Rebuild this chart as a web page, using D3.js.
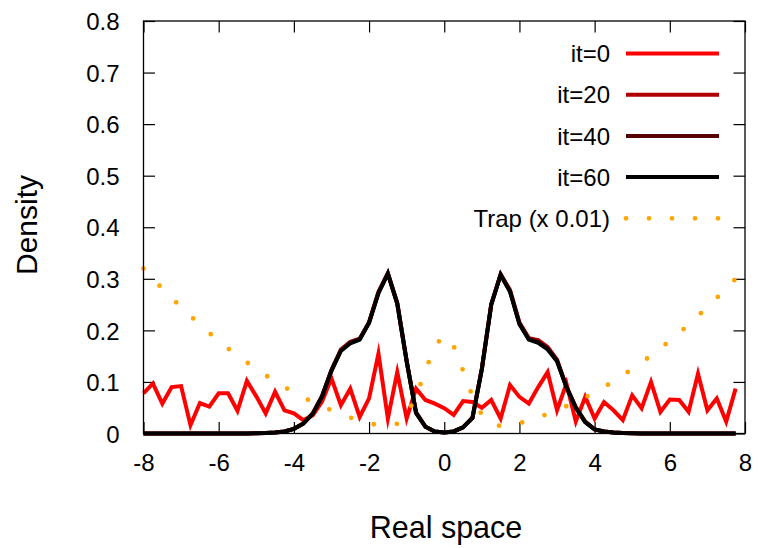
<!DOCTYPE html>
<html>
<head>
<meta charset="utf-8">
<script src="https://cdn.jsdelivr.net/npm/d3@7/dist/d3.min.js"></script>
<style>
  html, body { margin: 0; padding: 0; background: #fff; }
  svg { display: block; font-family: "Liberation Sans", Arial, Helvetica, sans-serif; }
</style>
</head>
<body>
<svg id="chart" width="758" height="548"></svg>
<script>
// ---- data ----
const xs = [-8,-7.75,-7.5,-7.25,-7,-6.75,-6.5,-6.25,-6,-5.75,-5.5,-5.25,-5,-4.75,-4.5,-4.25,
            -4,-3.75,-3.5,-3.25,-3,-2.75,-2.5,-2.25,-2,-1.75,-1.5,-1.25,-1,-0.75,-0.5,-0.25,
            0,0.25,0.5,0.75,1,1.25,1.5,1.75,2,2.25,2.5,2.75,3,3.25,3.5,3.75,
            4,4.25,4.5,4.75,5,5.25,5.5,5.75,6,6.25,6.5,6.75,7,7.25,7.5,7.75];

const it0 = [0.078,0.097,0.058,0.090,0.092,0.016,0.059,0.052,0.078,0.078,0.044,0.102,0.072,0.039,0.081,0.045,
             0.039,0.026,0.035,0.062,0.107,0.055,0.087,0.032,0.068,0.155,0.029,0.119,0.029,0.087,0.065,0.058,
             0.049,0.036,0.063,0.061,0.050,0.065,0.029,0.094,0.071,0.058,0.090,0.119,0.045,0.097,0.023,0.071,
             0.029,0.061,0.045,0.026,0.074,0.049,0.100,0.042,0.066,0.065,0.042,0.116,0.045,0.068,0.023,0.087];

const it20 = [0,0,0,0,0,0,0,0,0,0,0,0,0.0005,0.001,0.002,0.004,
              0.009,0.020,0.039,0.073,0.123,0.163,0.178,0.184,0.216,0.275,0.311,0.253,0.141,0.041,0.013,0.004,
              0.002,0.004,0.012,0.031,0.126,0.251,0.309,0.278,0.215,0.185,0.181,0.168,0.143,0.091,0.051,0.023,
              0.008,0.004,0.002,0.001,0.0005,0,0,0,0,0,0,0,0,0,0,0];

const it40 = [0,0,0,0,0,0,0,0,0,0,0,0,0.0005,0.001,0.002,0.004,
              0.009,0.019,0.038,0.072,0.122,0.161,0.176,0.183,0.215,0.273,0.310,0.252,0.140,0.040,0.013,0.004,
              0.002,0.004,0.012,0.030,0.125,0.250,0.308,0.276,0.213,0.183,0.178,0.165,0.141,0.090,0.050,0.022,
              0.008,0.004,0.002,0.001,0.0005,0,0,0,0,0,0,0,0,0,0,0];

const it60 = [0,0,0,0,0,0,0,0,0,0,0,0,0.0005,0.001,0.002,0.004,
              0.009,0.019,0.038,0.072,0.122,0.160,0.175,0.182,0.215,0.272,0.310,0.252,0.140,0.040,0.013,0.004,
              0.002,0.004,0.012,0.030,0.125,0.250,0.308,0.275,0.212,0.182,0.176,0.163,0.140,0.090,0.050,0.022,
              0.008,0.004,0.002,0.001,0.0005,0,0,0,0,0,0,0,0,0,0,0];

const trap = [0.320,0.300,0.281,0.263,0.245,0.228,0.211,0.195,0.180,0.165,0.151,0.138,0.125,0.113,0.101,0.090,
              0.080,0.070,0.061,0.053,0.045,0.038,0.031,0.025,0.020,0.016,0.0145,0.019,0.036,0.072,0.122,0.170,
              0.190,0.170,0.122,0.072,0.036,0.019,0.0145,0.016,0.020,0.025,0.031,0.038,0.045,0.053,0.061,0.070,
              0.080,0.090,0.101,0.113,0.125,0.138,0.151,0.165,0.180,0.195,0.211,0.228,0.245,0.263,0.281,0.300];

const xTicks = [-8,-6,-4,-2,0,2,4,6,8];
const yTicks = [0,0.1,0.2,0.3,0.4,0.5,0.6,0.7,0.8];
const seriesNames = ["it=0","it=20","it=40","it=60","Trap (x 0.01)"];
const seriesColors = ["#ff0000","#b00000","#560000","#000000","#ffa500"];
const seriesData = [it0, it20, it40, it60, trap];

// ---- layout ----
const svg = d3.select("#chart");
const L = 143.5, R = 745, T = 21, B = 433.5;
const x = d3.scaleLinear().domain([-8, 8]).range([L, R]);
const y = d3.scaleLinear().domain([0, 0.8]).range([B, T]);
const tickLen = 11.5;
const fs = 24;

// axes (inward ticks, mirrored)
const gB = svg.append("g").attr("transform", `translate(0,${B})`)
  .call(d3.axisBottom(x).tickValues(xTicks).tickSize(-tickLen).tickFormat(d => String(d)));
const gT = svg.append("g").attr("transform", `translate(0,${T})`)
  .call(d3.axisTop(x).tickValues(xTicks).tickSize(-tickLen).tickFormat(""));
const gL = svg.append("g").attr("transform", `translate(${L},0)`)
  .call(d3.axisLeft(y).tickValues(yTicks).tickSize(-tickLen).tickPadding(tickLen + 12.5).tickFormat(d => d === 0 ? "0" : d.toFixed(1)));
const gR = svg.append("g").attr("transform", `translate(${R},0)`)
  .call(d3.axisRight(y).tickValues(yTicks).tickSize(-tickLen).tickFormat(""));

[gB, gT, gL, gR].forEach(g => {
  g.select(".domain").remove();
  g.selectAll(".tick line").attr("stroke", "#000").attr("stroke-width", 1.2);
  g.selectAll(".tick text").attr("fill", "#000").style("font-size", fs + "px")
    .style("font-family", '"Liberation Sans", Arial, sans-serif');
});
gB.selectAll(".tick text").attr("dy", "0.71em").attr("y", 20.5);
gL.selectAll(".tick text").attr("dy", "0.36em");

// series lines
const line = d3.line().x((d, i) => x(xs[i])).y(d => y(d));
seriesData.forEach((arr, k) => {
  const p = svg.append("path").datum(arr)
    .attr("fill", "none")
    .attr("stroke", seriesColors[k])
    .attr("d", line);
  if (k === 4) {
    p.attr("stroke-width", 4.8).attr("stroke-linecap", "round").attr("stroke-dasharray", "0 23.5");
  } else {
    p.attr("stroke-width", 4).attr("stroke-linejoin", "miter").attr("stroke-miterlimit", 10);
  }
});

// border
svg.append("rect").attr("x", L).attr("y", T).attr("width", R - L).attr("height", B - T)
  .attr("fill", "none").attr("stroke", "#000").attr("stroke-width", 1.3);

// legend
const legY0 = 53.5, legDy = 41.2;
seriesNames.forEach((name, k) => {
  const cy = legY0 + k * legDy;
  svg.append("text").attr("x", 610).attr("y", cy).attr("dy", "0.36em")
    .attr("text-anchor", "end").style("font-size", fs + "px").attr("fill", "#000").text(name);
  const ln = svg.append("line").attr("x1", 626).attr("x2", 719).attr("y1", cy).attr("y2", cy)
    .attr("stroke", seriesColors[k]).attr("stroke-width", k === 4 ? 4.8 : 4);
  if (k === 4) ln.attr("stroke-linecap", "round").attr("stroke-dasharray", "0 23");
});

// axis titles
svg.append("text").attr("x", 446).attr("y", 527).attr("dy", "0.36em")
  .attr("text-anchor", "middle").style("font-size", "30.5px").attr("fill", "#000").text("Real space");
svg.append("text").attr("transform", "translate(26,225) rotate(-90)").attr("dy", "0.36em")
  .attr("text-anchor", "middle").style("font-size", "30px").attr("fill", "#000").text("Density");
</script>
</body>
</html>
